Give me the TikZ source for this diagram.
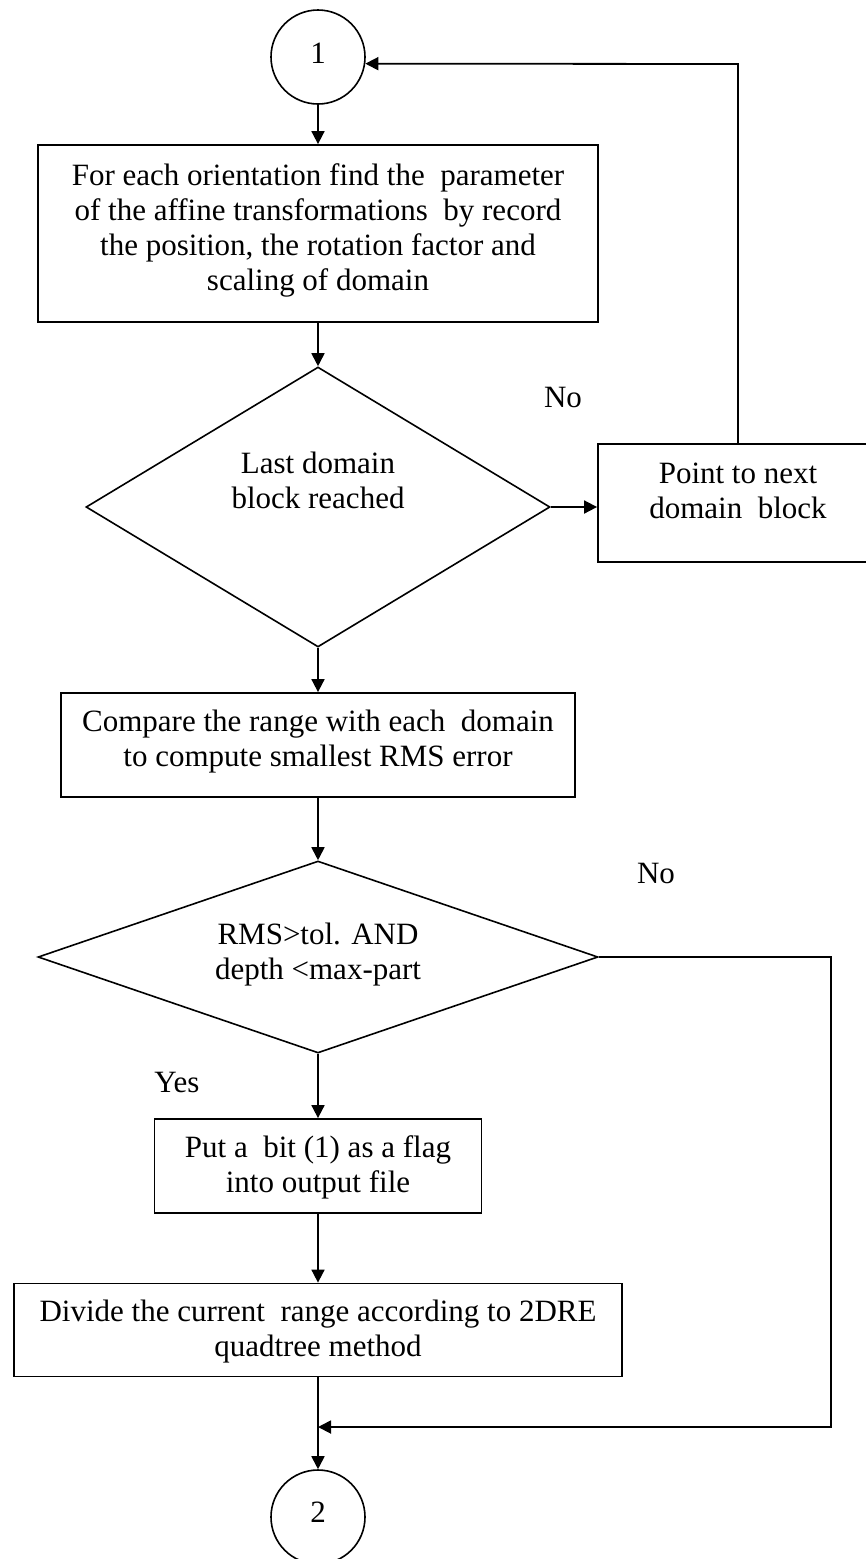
\documentclass[tikz,border=0pt]{standalone}
\usepackage{fontspec}
\setmainfont{Liberation Serif}
\usetikzlibrary{shapes.geometric,arrows.meta}
\begin{document}
\begin{tikzpicture}[x=0.5pt,y=-0.5pt,
  box/.style={draw,line width=0.9pt,inner sep=0pt,rectangle},
  dia/.style={draw,line width=0.8pt,diamond,inner sep=0pt},
  conn/.style={circle,draw,line width=0.8pt,minimum size=47pt,inner sep=0pt},
  txt/.style={align=center,font=\fontsize{15.5}{17.5}\selectfont,inner sep=0pt},
  arr/.style={line width=0.9pt,-{Triangle[length=6.5pt,width=6.5pt]}},
  ln/.style={line width=0.9pt}]
\useasboundingbox (0,0) rectangle (866,1559);
\clip (0,0) rectangle (866,1559);
% shapes
\node[conn] (c1) at (318,57) {};
\node[box,minimum width=280pt,minimum height=88.5pt] (b1) at (318,233.5) {};
\node[dia,minimum width=232pt,minimum height=140pt] (d1) at (318,507) {};
\node[box,minimum width=140pt,minimum height=59pt] (b2) at (738,503) {};
\node[box,minimum width=257pt,minimum height=52pt] (b3) at (318,745) {};
\node[dia,minimum width=280pt,minimum height=96pt] (d2) at (318,957) {};
\node[box,minimum width=163.5pt,minimum height=47pt] (b4) at (318,1166) {};
\node[box,minimum width=304pt,minimum height=46.5pt] (b5) at (318,1330) {};
\node[conn] (c2) at (318,1517) {};
% texts
\node[txt] (t0) at (318,53) {1};
\node[txt] (t1) at (318,230) {For each orientation find the \ parameter\\of the affine transformations \ by record\\the position, the rotation factor and\\scaling of domain};
\node[txt] (td1) at (318,480) {Last domain\\block reached};
\node[txt] (t2) at (738,491) {Point to next\\domain \ block};
\node[txt] (t3) at (318,742) {Compare the range with each \ domain\\to compute smallest RMS error};
\node[txt] (td2) at (318,955) {RMS>tol. AND\\depth <max-part};
\node[txt] (t4) at (318,1167) {Put a \ bit (1) as a flag\\into output file};
\node[txt] (t5) at (318,1332) {Divide the current \ range according to 2DRE\\quadtree method};
\node[txt] (t6) at (318,1512) {2};
\node[txt] (no1) at (563,397) {No};
\node[txt] (no2) at (656,873) {No};
\node[txt] (yes) at (177,1082) {Yes};
% connectors
\draw[arr] (c1.south) -- (b1.north);
\draw[arr] (b1.south) -- (d1.north);
\draw[arr] (d1.east) -- (d1.east -| b2.west);
\coordinate (fb) at (738,64);
\draw[arr] (b2.north) -- (fb) -- (c1.-8.6);
\draw[arr] (d1.south) -- (b3.north);
\draw[arr] (b3.south) -- (d2.north);
\draw[arr] (d2.south) -- (b4.north);
\draw[arr] (b4.south) -- (b5.north);
\draw[arr] (b5.south) -- (c2.north);
\coordinate (nr) at (831,957);
\coordinate (nb) at (831,1427);
\draw[arr] (d2.east) -- (nr) -- (nb) -- (nb -| b5.south);
\end{tikzpicture}
\end{document}
